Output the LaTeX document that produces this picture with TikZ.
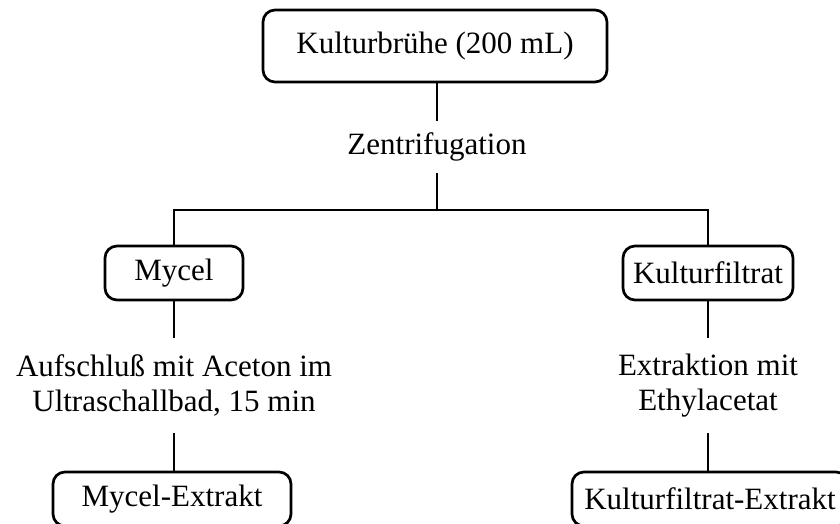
\documentclass[tikz,border=0pt]{standalone}
\usepackage{fontspec}
\setmainfont{Liberation Serif}
\begin{document}
\begin{tikzpicture}[x=1pt, y=-1pt, line width=2.7pt,
    stufe/.style={draw, rounded corners=12pt, inner sep=0pt,
        font=\fontsize{31}{35}\selectfont},
    schritt/.style={align=center, inner xsep=0pt, inner ysep=15pt,
        font=\fontsize{31}{35}\selectfont}]
    \clip (0,0) rectangle (840,524);

    \node[stufe, minimum width=344pt, minimum height=72pt] (brueh) at (435,46) {Kulturbrühe (200 mL)};
    \node[schritt, inner ysep=10pt] (zentri) at (437,147) {Zentrifugation};
    \coordinate (split) at (437,210);

    \node[stufe, minimum width=138pt, minimum height=54pt] (myc) at (174,273) {Mycel};
    \node[stufe, minimum width=170pt, minimum height=54pt] (kf) at (708,273) {Kulturfiltrat};

    \node[schritt] (aufs) at (174,385.5) {Aufschluß mit Aceton im\\Ultraschallbad, 15 min};
    \node[schritt] (extr) at (708,385.5) {Extraktion mit\\Ethylacetat};

    \node[stufe, minimum width=238pt, minimum height=54pt] (mycx) at (172,499) {Mycel-Extrakt};
    \node[stufe, minimum width=276pt, minimum height=54pt] (kfx) at (710,499) {Kulturfiltrat-Extrakt};

    % Verbindungen
    \draw (brueh.south -| zentri) -- (zentri.north);
    \draw (zentri.south) -- (split);
    \draw (myc.north) |- (split) -| (kf.north);
    \draw (myc) -- (aufs);
    \draw (aufs) -- (mycx.north -| aufs);
    \draw (kf) -- (extr);
    \draw (extr) -- (kfx.north -| extr);
\end{tikzpicture}
\end{document}
